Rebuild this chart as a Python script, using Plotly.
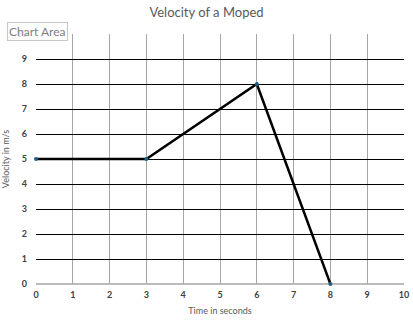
import plotly.graph_objects as go

time_s = [0, 3, 6, 8]
velocity = [5, 5, 8, 0]
x_ticks = list(range(0, 11))
y_ticks = list(range(0, 11))

fig = go.Figure()
fig.add_trace(go.Scatter(
    x=time_s, y=velocity, mode="lines+markers",
    line=dict(color="black", width=2.5),
    marker=dict(color="#1f6185", size=4),
    showlegend=False, cliponaxis=False,
))

font_family = "Lato, Open Sans, sans-serif"
tickfont = dict(family=font_family, size=9, color="#404040", weight="bold")
fig.update_layout(
    width=413, height=325,
    margin=dict(l=36, r=9, t=34, b=41, autoexpand=False),
    paper_bgcolor="white", plot_bgcolor="white",
    title=dict(text="Velocity of a Moped", x=0.5, xanchor="center", y=0.962, yanchor="middle",
               font=dict(family=font_family, size=13, color="#595959")),
    xaxis=dict(range=[0, 10], tickvals=x_ticks, ticktext=[str(v) for v in x_ticks],
               showgrid=True, gridcolor="#a6a6a6", gridwidth=1, automargin=False,
               zeroline=False, showline=False,
               tickfont=tickfont, ticks="", ticklabelstandoff=4,
               title=dict(text="Time in seconds", standoff=8,
                          font=dict(family=font_family, size=9, color="#595959"))),
    yaxis=dict(range=[0, 10], tickvals=y_ticks, ticktext=[str(v) for v in y_ticks],
               showgrid=True, gridcolor="black", gridwidth=1, automargin=False,
               zeroline=False, showline=False,
               tickfont=tickfont, ticks="", ticklabelstandoff=8,
               title=dict(text="Velocity in m/s", standoff=8,
                          font=dict(family=font_family, size=9, color="#595959"))),
)

# gray baseline along the bottom of the plot area
fig.add_shape(type="line", xref="paper", yref="paper", x0=0, x1=1, y0=0, y1=0,
              line=dict(color="#a6a6a6", width=1.5), layer="between")

fig.add_annotation(
    text="Chart Area", xref="paper", yref="paper", x=-0.08, y=1.01,
    xanchor="left", yanchor="middle", showarrow=False,
    font=dict(family=font_family, size=12, color="#7f7f7f"),
    bgcolor="rgba(255,255,255,0.85)", bordercolor="#c8c8c8", borderwidth=1, borderpad=1,
)

fig.write_html("out.html")
